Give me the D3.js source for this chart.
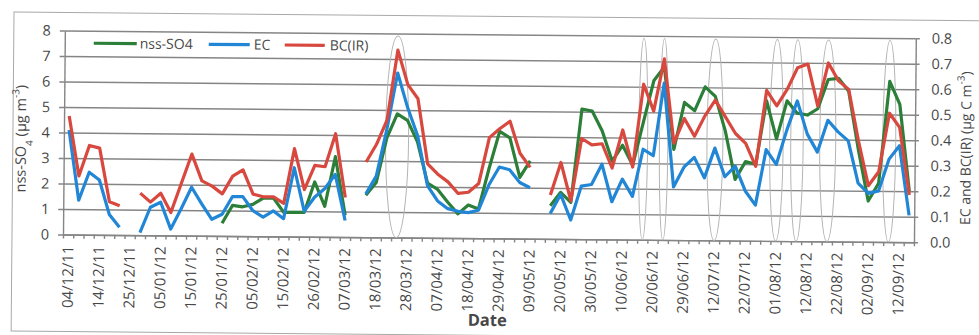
<!DOCTYPE html>
<html>
<head>
<meta charset="utf-8">
<script src="https://cdn.jsdelivr.net/npm/d3@7"></script>
<style>
  body { margin: 0; background: #fff; }
  text { font-family: "Open Sans", sans-serif; fill: #474747; }
</style>
</head>
<body>
<div id="chart"></div>
<script>
// sampling dates printed on the axis (one label every third sample)
var dateLabels = ["04/12/11", "14/12/11", "25/12/11", "05/01/12", "15/01/12", "25/01/12",
    "05/02/12", "15/02/12", "26/02/12", "07/03/12", "18/03/12", "28/03/12", "07/04/12",
    "18/04/12", "29/04/12", "09/05/12", "20/05/12", "30/05/12", "10/06/12", "20/06/12",
    "29/06/12", "12/07/12", "22/07/12", "01/08/12", "12/08/12", "22/08/12", "02/09/12",
    "12/09/12"];

// nss-SO4, ug m-3 (left axis)
var so4 = [null, null, null, null, null, null, null, null, null, null,
    null, null, null, null, null, 0.5, 1.2, 1.15, 1.25, 1.5,
    1.5, 0.95, 0.95, 0.95, 2.15, 1.2, 3.15, 0.85, null, 1.65,
    2.15, 3.9, 4.85, 4.6, 3.75, 2.15, 1.9, 1.4, 0.95, 1.3,
    1.15, 2.75, 4.2, 3.95, 2.4, 3.05, null, 1.3, 1.83, 1.44,
    5.1, 5.03, 4.25, 3.07, 3.7, 2.92, 4.6, 6.25, 6.78, 3.55,
    5.4, 5.08, 6.02, 5.65, 4.3, 2.4, 3.1, 3.0, 5.5, 4.0,
    5.5, 5.02, 4.95, 5.2, 6.35, 6.4, 5.9, 3.6, 1.6, 2.3,
    6.3, 5.4, 2.0];

// EC, ug C m-3 (right axis)
var ec = [0.41, 0.135, 0.245, 0.215, 0.08, 0.03, null, 0.01, 0.11, 0.13,
    0.025, 0.105, 0.19, 0.125, 0.065, 0.085, 0.155, 0.155, 0.1, 0.075,
    0.1, 0.07, 0.27, 0.1, 0.155, 0.19, 0.245, 0.065, null, 0.17,
    0.24, 0.425, 0.645, 0.51, 0.4, 0.205, 0.145, 0.115, 0.105, 0.1,
    0.11, 0.21, 0.28, 0.27, 0.22, 0.2, null, 0.1, 0.175, 0.075,
    0.208, 0.215, 0.295, 0.148, 0.237, 0.17, 0.355, 0.33, 0.615, 0.208,
    0.286, 0.325, 0.245, 0.362, 0.25, 0.292, 0.195, 0.14, 0.358, 0.3,
    0.435, 0.55, 0.42, 0.35, 0.475, 0.43, 0.395, 0.23, 0.19, 0.2,
    0.325, 0.378, 0.105];

// BC(IR), ug C m-3 (right axis)
var bc = [0.465, 0.23, 0.35, 0.34, 0.13, 0.115, null, 0.165, 0.13, 0.165,
    0.09, 0.205, 0.32, 0.215, 0.195, 0.165, 0.235, 0.26, 0.165, 0.155,
    0.155, 0.13, 0.345, 0.185, 0.28, 0.275, 0.405, 0.155, null, 0.295,
    0.365, 0.46, 0.735, 0.6, 0.545, 0.29, 0.25, 0.22, 0.175, 0.18,
    0.215, 0.395, 0.43, 0.46, 0.335, 0.28, null, 0.172, 0.3, 0.15,
    0.395, 0.37, 0.375, 0.28, 0.43, 0.285, 0.61, 0.505, 0.71, 0.38,
    0.477, 0.408, 0.488, 0.55, 0.485, 0.42, 0.382, 0.292, 0.59, 0.53,
    0.595, 0.68, 0.695, 0.53, 0.7, 0.63, 0.597, 0.395, 0.22, 0.275,
    0.505, 0.45, 0.185];

// samples ringed by hand on the original figure
var circled = [32, 56, 58, 63, 69, 71, 74, 80];

var width = 979, height = 335;
var plotLeft = 63, plotRight = 914, plotBottom = 234.5, plotTop = 30.5;

var x = d3.scaleBand().domain(d3.range(so4.length)).range([plotLeft, plotRight]);
var xEdge = d3.scaleLinear().domain([0, so4.length]).range([plotLeft, plotRight]);
var yL = d3.scaleLinear().domain([0, 8]).range([plotBottom, plotTop]);
var yR = d3.scaleLinear().domain([0, 0.8]).range([plotBottom, plotTop]);
var cx = function(i) { return x(i) + x.bandwidth() / 2; };

var svg = d3.select("#chart").append("svg")
    .attr("width", width)
    .attr("height", height);

// the scanned figure sits slightly askew
var g = svg.append("g")
    .attr("transform", "rotate(0.52," + plotLeft + "," + plotBottom + ")");

// chart frame
g.append("rect")
    .attr("x", 12).attr("y", 12.5)
    .attr("width", 1000).attr("height", 319)
    .attr("fill", "none")
    .attr("stroke", "#a8a8a8");

// horizontal gridlines
g.append("g")
    .attr("transform", "translate(" + plotLeft + ",0)")
    .call(d3.axisLeft(yL).ticks(8).tickSize(-(plotRight - plotLeft)).tickFormat(""))
    .call(function(s) { s.select(".domain").remove(); })
    .selectAll("line")
    .attr("stroke", "#858585")
    .attr("stroke-width", 1.4);

// left axis
var axL = g.append("g")
    .attr("transform", "translate(" + plotLeft + ",0)")
    .call(d3.axisLeft(yL).ticks(8).tickSize(5).tickSizeOuter(0).tickPadding(9).tickFormat(d3.format("d")));
axL.selectAll("text").style("font-size", "14.5px").attr("fill", "#4a4a4a");

// right axis
var axR = g.append("g")
    .attr("transform", "translate(" + plotRight + ",0)")
    .call(d3.axisRight(yR).ticks(8).tickSize(4).tickSizeOuter(0).tickPadding(12).tickFormat(d3.format(".1f")));
axR.selectAll("text").style("font-size", "14.5px").attr("fill", "#4a4a4a");

// bottom axis: tick marks between samples
g.append("g")
    .attr("transform", "translate(0," + plotBottom + ")")
    .call(d3.axisBottom(xEdge).tickValues(d3.range(so4.length + 1)).tickSize(4).tickSizeOuter(0).tickFormat(""));

// bottom axis: date labels
var axX = g.append("g")
    .attr("transform", "translate(0," + plotBottom + ")")
    .call(d3.axisBottom(x).tickValues(d3.range(0, so4.length, 3)).tickSize(0)
        .tickFormat(function(i) { return dateLabels[i / 3]; }));
axX.select(".domain").remove();
axX.selectAll("text")
    .attr("transform", "rotate(-90)")
    .attr("x", -11).attr("y", 0).attr("dy", "0.35em")
    .style("text-anchor", "end")
    .style("font-size", "15px")
    .attr("fill", "#4a4a4a");

g.selectAll(".domain, .tick line").attr("stroke", "#858585").attr("stroke-width", 1.4);

// hand-drawn rings
var ringWidth = {32: 23, 56: 9, 58: 8.5, 63: 16, 69: 13.5, 71: 12.5, 74: 16, 80: 13};
g.append("g").selectAll("ellipse")
    .data(circled)
    .enter().append("ellipse")
    .attr("cx", function(i) { return cx(i); })
    .attr("cy", (yL(0) + yL(7.9)) / 2)
    .attr("rx", function(i) { return ringWidth[i] / 2; })
    .attr("ry", (yL(0) - yL(7.9)) / 2)
    .attr("fill", "none")
    .attr("stroke", "#b4b4b4")
    .attr("stroke-width", 1);

// series
var series = [
    {name: "nss-SO4", values: so4, y: yL, color: "#2b7f38"},
    {name: "EC", values: ec, y: yR, color: "#2286d6"},
    {name: "BC(IR)", values: bc, y: yR, color: "#d8483e"}
];

series.forEach(function(s) {
    var line = d3.line()
        .defined(function(d) { return d != null; })
        .x(function(d, i) { return cx(i); })
        .y(function(d) { return s.y(d); });
    g.append("path")
        .datum(s.values)
        .attr("fill", "none")
        .attr("stroke", s.color)
        .attr("stroke-width", 3.2)
        .attr("stroke-linejoin", "round")
        .attr("d", line);
});

// legend
var legendPos = [[92, 135, 138], [207, 248, 252], [283, 323, 328]];
var legend = g.append("g").selectAll("g")
    .data(series)
    .enter().append("g");
legend.append("line")
    .attr("x1", function(d, i) { return legendPos[i][0]; })
    .attr("x2", function(d, i) { return legendPos[i][1]; })
    .attr("y1", 43).attr("y2", 43)
    .attr("stroke", function(d) { return d.color; })
    .attr("stroke-width", 3.2);
legend.append("text")
    .attr("x", function(d, i) { return legendPos[i][2]; })
    .attr("y", 43).attr("dy", "0.35em")
    .style("font-size", "14px")
    .text(function(d) { return d.name; });

// axis titles
var tL = g.append("text")
    .attr("transform", "translate(25,139) rotate(-90)")
    .style("text-anchor", "middle")
    .style("font-size", "14.5px");
tL.append("tspan").text("nss-SO");
tL.append("tspan").attr("baseline-shift", "sub").style("font-size", "10px").text("4");
tL.append("tspan").text(" (\u03bcg m");
tL.append("tspan").attr("baseline-shift", "super").style("font-size", "10px").text("-3");
tL.append("tspan").text(")");

var tR = g.append("text")
    .attr("transform", "translate(970,140) rotate(-90)")
    .style("text-anchor", "middle")
    .style("font-size", "14px");
tR.append("tspan").text("EC and BC(IR) (\u03bcg C m");
tR.append("tspan").attr("baseline-shift", "super").style("font-size", "10px").text("-3");
tR.append("tspan").text(")");

g.append("text")
    .attr("x", 488).attr("y", 322)
    .style("text-anchor", "middle")
    .style("font-size", "16.5px")
    .style("font-weight", "bold")
    .text("Date");
</script>
</body>
</html>
